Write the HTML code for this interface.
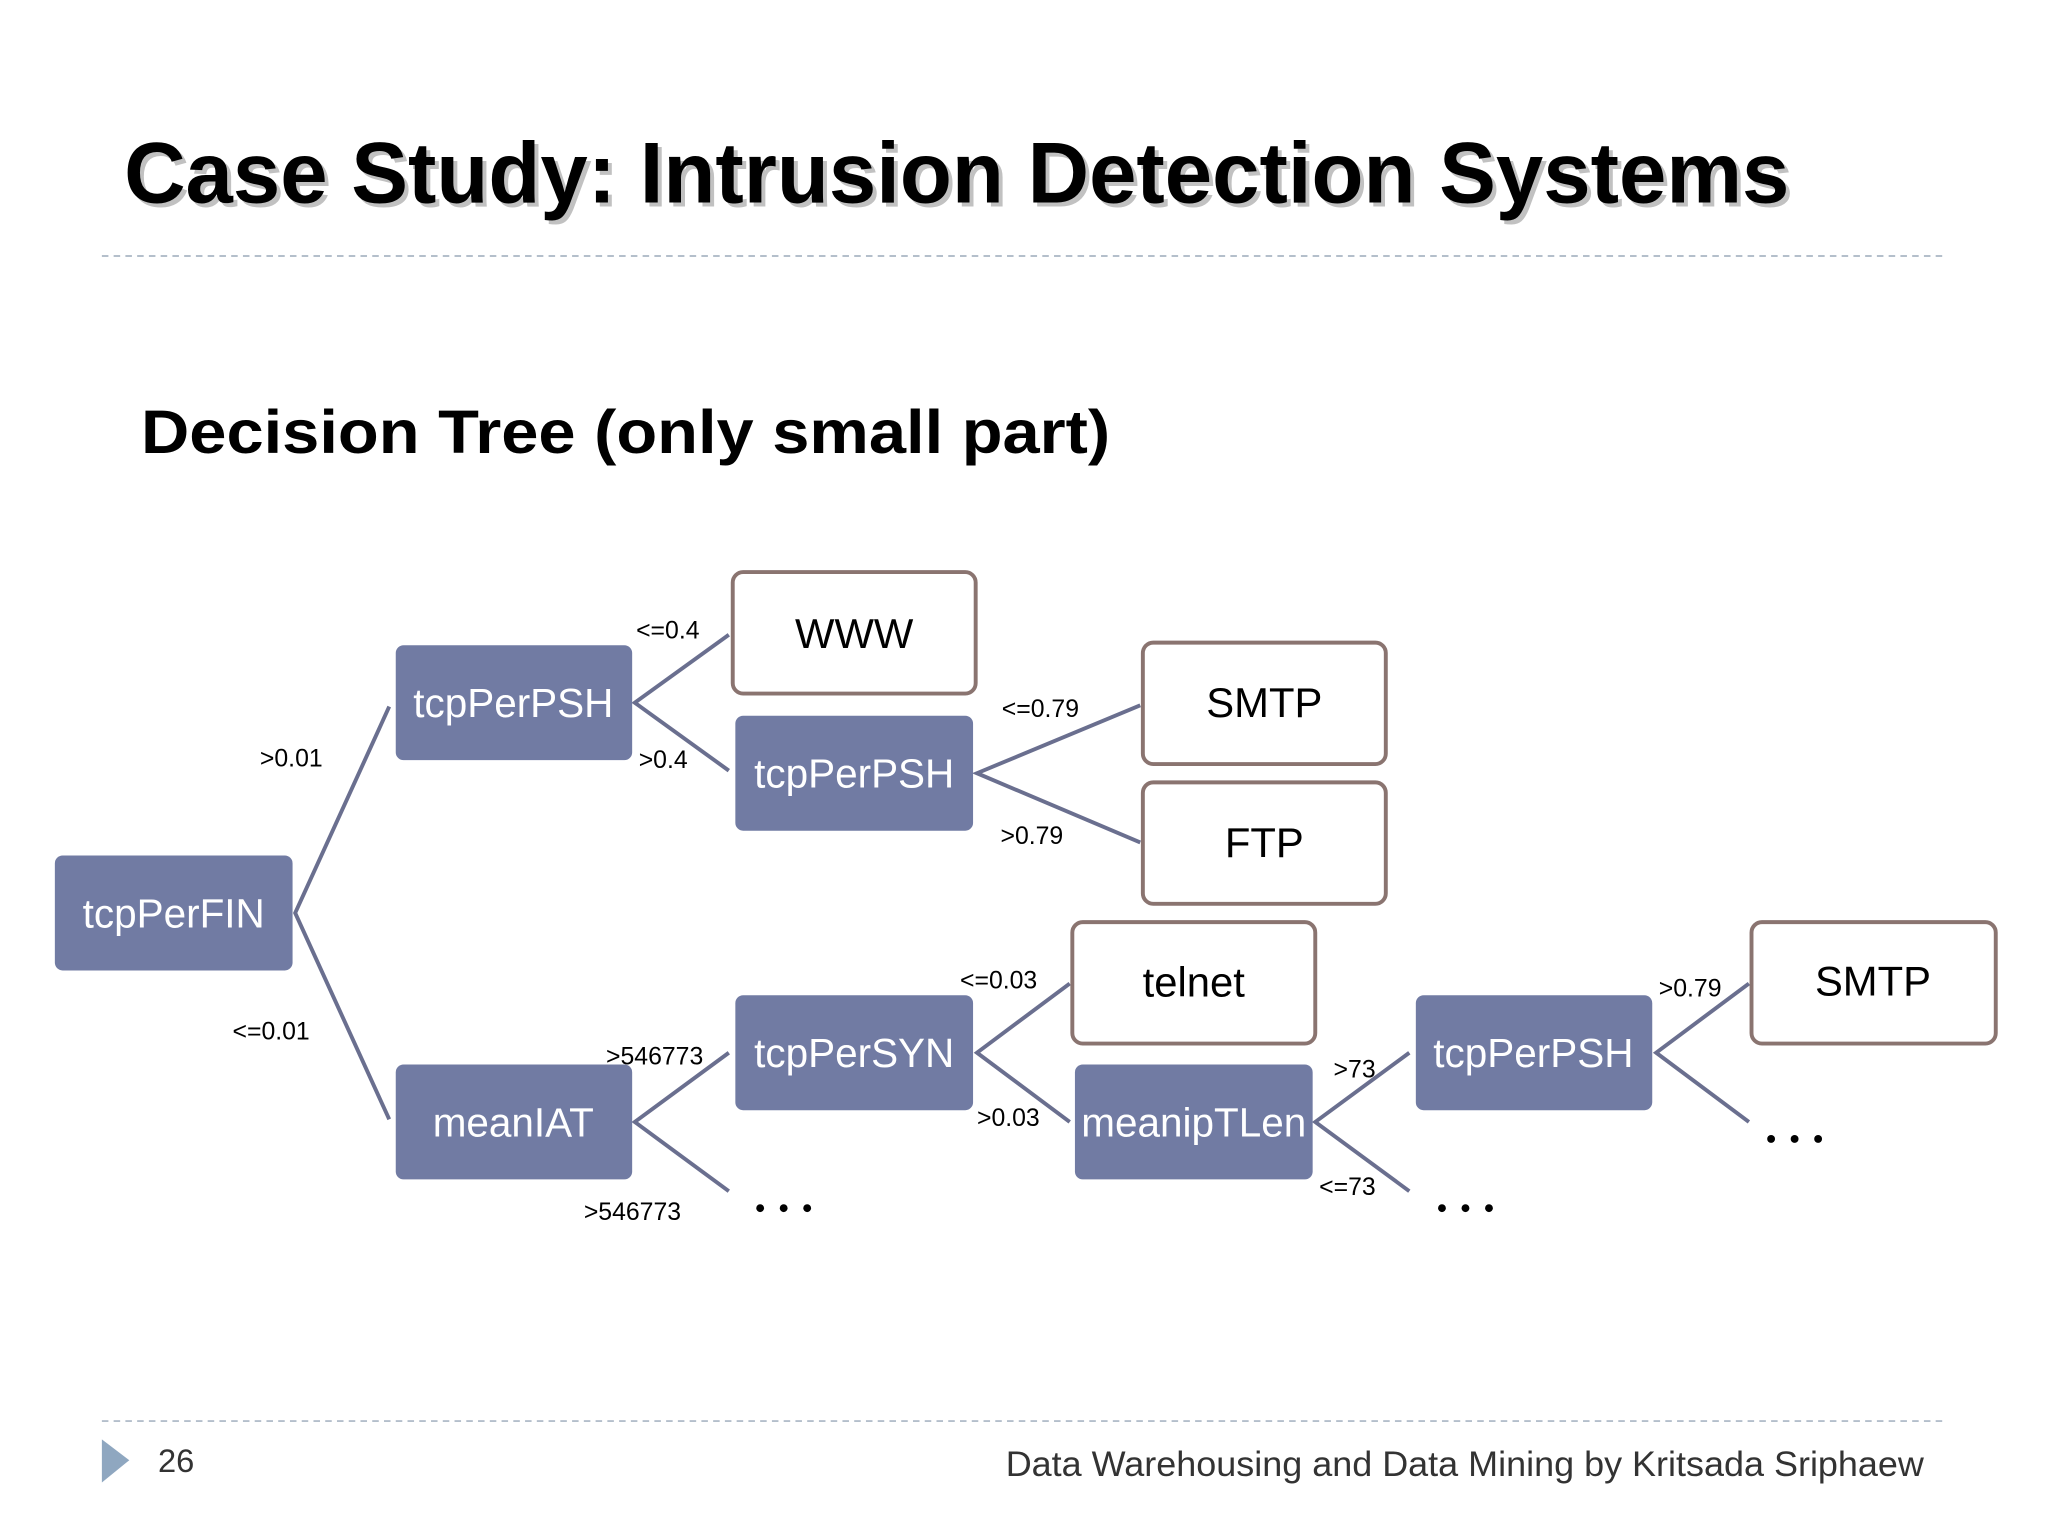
<!DOCTYPE html>
<html><head><meta charset="utf-8"><style>html,body{margin:0;padding:0;background:#fff}svg{display:block}</style></head>
<body>
<svg width="2048" height="1536" viewBox="0 0 1568 1176" xmlns="http://www.w3.org/2000/svg" font-family="Liberation Sans, DejaVu Sans, sans-serif">
<rect width="1568" height="1176" fill="#fff"/>
<text x="98" y="158" font-size="66" font-weight="bold" fill="#999" opacity="0.6" textLength="1275" lengthAdjust="spacingAndGlyphs">Case Study: Intrusion Detection Systems</text>
<text x="95" y="155" font-size="66" font-weight="bold" fill="#000" textLength="1275" lengthAdjust="spacingAndGlyphs">Case Study: Intrusion Detection Systems</text>
<line x1="78" y1="196" x2="1490" y2="196" stroke="#b4bfcb" stroke-width="1.5" stroke-dasharray="5,4"/>
<text x="108" y="347" font-size="47" font-weight="bold" fill="#000" textLength="742" lengthAdjust="spacingAndGlyphs">Decision Tree (only small part)</text>
<g stroke="#6a6f8f" stroke-width="3" fill="none">
<polyline points="298,541 226,699 298,857"/>
<polyline points="558,486 486,538 558,590"/>
<polyline points="873,540 748,592 873,645"/>
<polyline points="558,806 486,859 558,912"/>
<polyline points="819,753 748,806 819,859"/>
<polyline points="1079,806 1007,859 1079,912"/>
<polyline points="1339,753 1268,806 1339,859"/>
</g>
<g fill="#717ba3">
<rect x="42" y="655" width="182" height="88" rx="6"/>
<rect x="303" y="494" width="181" height="88" rx="6"/>
<rect x="563" y="548" width="182" height="88" rx="6"/>
<rect x="303" y="815" width="181" height="88" rx="6"/>
<rect x="563" y="762" width="182" height="88" rx="6"/>
<rect x="823" y="815" width="182" height="88" rx="6"/>
<rect x="1084" y="762" width="181" height="88" rx="6"/>
</g>
<g fill="#fff" stroke="#8a7470" stroke-width="3">
<rect x="561" y="438" width="186" height="93" rx="8"/>
<rect x="875" y="492" width="186" height="93" rx="8"/>
<rect x="875" y="599" width="186" height="93" rx="8"/>
<rect x="821" y="706" width="186" height="93" rx="8"/>
<rect x="1341" y="706" width="187" height="93" rx="8"/>
</g>
<g fill="#fff" font-size="31" text-anchor="middle">
<text x="133" y="710">tcpPerFIN</text>
<text x="393" y="549">tcpPerPSH</text>
<text x="654" y="603">tcpPerPSH</text>
<text x="393" y="870">meanIAT</text>
<text x="654" y="817">tcpPerSYN</text>
<text x="914" y="870">meanipTLen</text>
<text x="1174" y="817">tcpPerPSH</text>
</g>
<g fill="#000" font-size="32" text-anchor="middle">
<text x="654" y="496">WWW</text>
<text x="968" y="549">SMTP</text>
<text x="968" y="656">FTP</text>
<text x="914" y="763">telnet</text>
<text x="1434" y="762">SMTP</text>
</g>
<g fill="#000" font-size="19">
<text x="199" y="587">&gt;0.01</text>
<text x="178" y="796">&lt;=0.01</text>
<text x="487" y="489">&lt;=0.4</text>
<text x="489" y="588">&gt;0.4</text>
<text x="767" y="549">&lt;=0.79</text>
<text x="766" y="646">&gt;0.79</text>
<text x="735" y="757">&lt;=0.03</text>
<text x="748" y="862">&gt;0.03</text>
<text x="464" y="815">&gt;546773</text>
<text x="447" y="934">&gt;546773</text>
<text x="1021" y="825">&gt;73</text>
<text x="1010" y="915">&lt;=73</text>
<text x="1270" y="763">&gt;0.79</text>
</g>
<g fill="#000">
<circle cx="582" cy="925" r="3"/><circle cx="600" cy="925" r="3"/><circle cx="618" cy="925" r="3"/>
<circle cx="1104" cy="925" r="3"/><circle cx="1122" cy="925" r="3"/><circle cx="1140" cy="925" r="3"/>
<circle cx="1356" cy="872" r="3"/><circle cx="1374" cy="872" r="3"/><circle cx="1392" cy="872" r="3"/>
</g>
<line x1="78" y1="1088" x2="1490" y2="1088" stroke="#b4bfcb" stroke-width="1.5" stroke-dasharray="5,4"/>
<polygon points="78,1102 99,1118 78,1135" fill="#8fa7c0"/>
<text x="121" y="1127" font-size="25" fill="#333">26</text>
<text x="1473" y="1130" font-size="27" fill="#333" text-anchor="end" textLength="703" lengthAdjust="spacingAndGlyphs">Data Warehousing and Data Mining by Kritsada Sriphaew</text>
</svg>
</body></html>
